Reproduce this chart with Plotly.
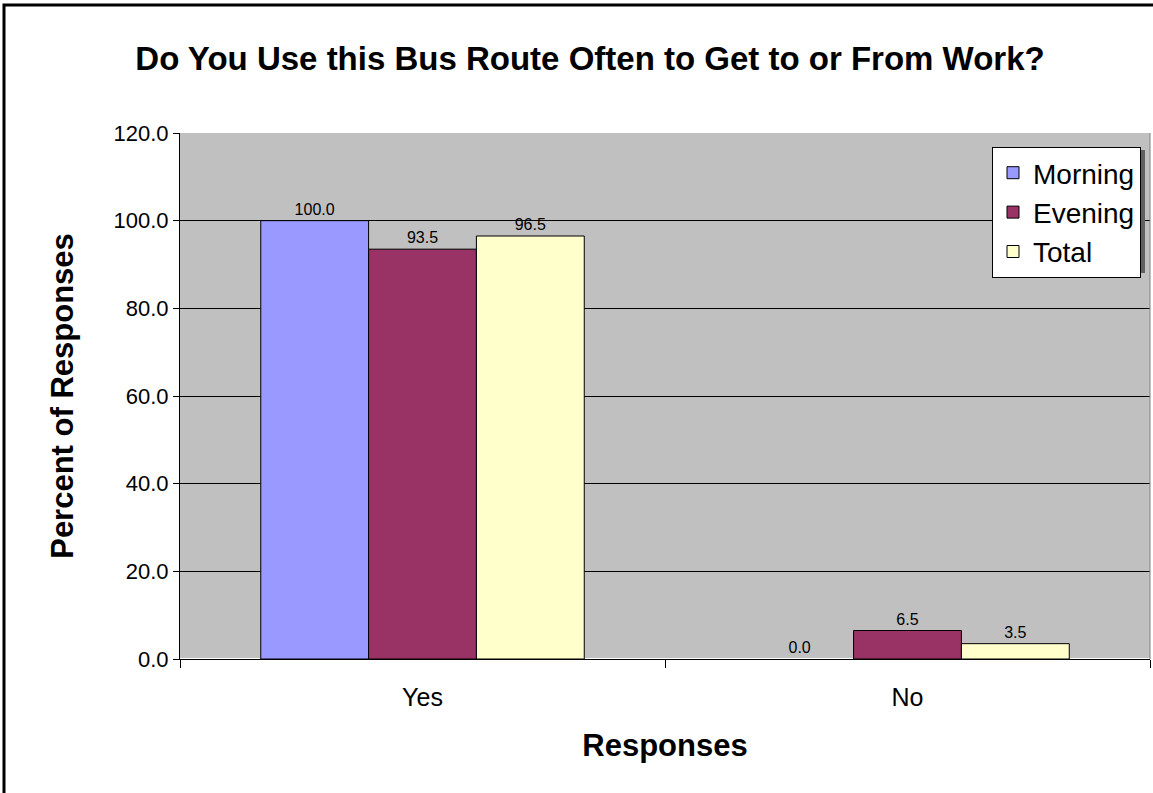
import plotly.graph_objects as go

categories = ["Yes", "No"]
morning = [100.0, 0.0]
evening = [93.5, 6.5]
total = [96.5, 3.5]
series_names = ["Morning", "Evening", "Total"]
colors = ["#9999FF", "#993366", "#FFFFCC"]

W, H = 1153, 793
L, R, T, B = 180, 3, 133, 134
pw, ph = W - L - R, H - T - B

def px_x(p):
    return (p - L) / pw

def px_y(p):
    return (H - B - p) / ph

FONT = "Liberation Sans, Arial"

fig = go.Figure()
for name, vals, col in zip(series_names, [morning, evening, total], colors):
    fig.add_trace(go.Bar(
        x=categories, y=vals, name=name,
        marker=dict(color=col, line=dict(color="black", width=[1 if v > 0 else 0 for v in vals])),
        text=[f"{v:.1f}" for v in vals], textposition="outside",
        textfont=dict(size=16, color="black", family=FONT),
        cliponaxis=False,
    ))

fig.update_layout(
    width=W, height=H,
    margin=dict(l=L, r=R, t=T, b=B),
    paper_bgcolor="white", plot_bgcolor="#C0C0C0",
    font=dict(family=FONT, color="black"),
    barmode="group", bargap=0.333, bargroupgap=0,
    title=dict(text="<b>Do You Use this Bus Route Often to Get to or From Work?</b>",
               x=px_x(590), xref="paper", xanchor="center",
               y=1 - 58 / H, yanchor="middle", font=dict(size=33)),
    legend=dict(x=px_x(992), y=px_y(147), xanchor="left", yanchor="top",
                bgcolor="white", bordercolor="black", borderwidth=1,
                font=dict(size=28), itemwidth=30, tracegroupgap=0),
    showlegend=True,
)
fig.update_yaxes(range=[0, 120], dtick=20, tickformat=".1f",
                 showgrid=True, gridcolor="black", gridwidth=1,
                 ticks="outside", ticklen=6, tickcolor="black",
                 showline=True, linecolor="black", linewidth=1,
                 tickfont=dict(size=22),
                 title=dict(text="<b>Percent of Responses</b>", font=dict(size=31), standoff=30))
fig.update_xaxes(tickson="boundaries", ticks="outside", ticklen=8, tickcolor="black",
                 showline=True, linecolor="black", linewidth=1,
                 tickfont=dict(size=25), ticklabelstandoff=16,
                 title=dict(text="<b>Responses</b>", font=dict(size=31), standoff=24))

fig.add_shape(type="line", xref="paper", yref="paper", x0=1, x1=1, y0=0, y1=1,
              line=dict(color="#808080", width=1))
fig.add_shape(type="rect", xref="paper", yref="paper",
              x0=px_x(995), x1=px_x(1145), y0=px_y(150), y1=px_y(273),
              line=dict(width=0), fillcolor="#606060", layer="above")
fig.add_shape(type="rect", xref="paper", yref="paper",
              x0=px_x(4), x1=px_x(1160), y0=px_y(5), y1=px_y(800),
              line=dict(color="black", width=3), fillcolor="rgba(0,0,0,0)", layer="above")

fig.write_html("out.html")
